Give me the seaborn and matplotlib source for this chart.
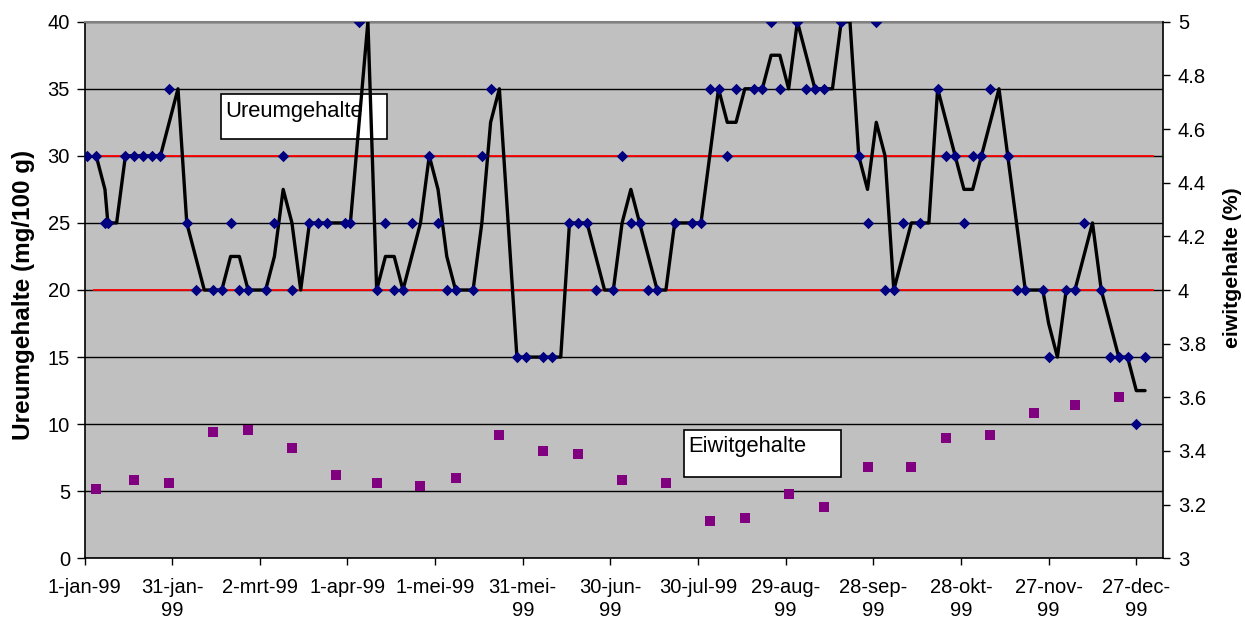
import numpy as np
import pandas as pd
import matplotlib.pyplot as plt
from matplotlib.patches import Rectangle
import seaborn as sns

# --- DATA ---
START = pd.Timestamp("1999-01-01")

# urea samples: day offset from 1-jan-99, value in mg/100 g
# None = row in the sheet without a urea value (still counts for the moving average)
urea_day = [1, 4, 7, 8, 11, 14, 17, 20, 23, 26, 29, 32, 35, 38, 41, 44, 47, 50, 53, 56,
            59, 62, 65, 68, 71, 74, 77, 80, 83, 86, 89, 91, 94, 97, 100, 103, 106, 109, 112, 115,
            118, 121, 124, 127, 130, 133, 136, 139, 142, 148, 151, 154, 157, 160, 163, 166, 169, 172, 175, 178,
            181, 184, 187, 190, 193, 196, 199, 202, 205, 208, 211, 214, 217, 220, 223, 226, 229, 232, 235, 238,
            241, 244, 247, 250, 253, 256, 259, 262, 265, 268, 271, 274, 277, 280, 283, 286, 289, 292, 295, 298,
            301, 304, 307, 310, 313, 316, 319, 322, 325, 328, 330, 333, 336, 339, 342, 345, 348, 351, 354, 357,
            360, 363]
urea_val = [30, 30, 25, 25, None, 30, 30, 30, 30, 30, 35, None, 25, 20, None, 20, 20, 25, 20, 20,
            None, 20, 25, 30, 20, None, 25, 25, 25, None, 25, 25, 40, None, 20, 25, 20, 20, 25, None,
            30, 25, 20, 20, None, 20, 30, 35, None, 15, 15, None, 15, 15, None, 25, 25, 25, 20, None,
            20, 30, 25, 25, 20, 20, None, 25, None, 25, 25, 35, 35, 30, 35, None, 35, 35, 40, 35,
            None, 40, 35, 35, 35, None, 40, None, 30, 25, 40, 20, 20, 25, None, 25, None, 35, 30, 30,
            25, 30, 30, 35, None, 30, 20, 20, None, 20, 15, None, 20, 20, 25, None, 20, 15, 15, 15,
            10, 15]

# protein content (%), right axis
protein_day = [4, 17, 29, 44, 56, 71, 86, 100, 115, 127, 142, 157, 169, 184, 199, 214, 226,
               241, 253, 268, 283, 295, 310, 325, 339, 354]
protein_val = [3.26, 3.29, 3.28, 3.47, 3.48, 3.41, 3.31, 3.28, 3.27, 3.30, 3.46, 3.40, 3.39,
               3.29, 3.28, 3.14, 3.15, 3.24, 3.19, 3.34, 3.34, 3.45, 3.46, 3.54, 3.57, 3.60]

# reference limits for urea
limit_values = [20, 30]
limit_days = (3, 366)

tick_days = [0, 30, 60, 90, 120, 150, 180, 210, 240, 270, 300, 330, 360]
tick_labels = ["1-jan-99", "31-jan-\n99", "2-mrt-99", "1-apr-99", "1-mei-99", "31-mei-\n99",
               "30-jun-\n99", "30-jul-99", "29-aug-\n99", "28-sep-\n99", "28-okt-\n99",
               "27-nov-\n99", "27-dec-\n99"]

W, H = 1245, 624


def day(d):
    return START + pd.to_timedelta(d, unit="D")


def fx(px):
    return px / W


def fy(py):
    return 1 - py / H


urea = pd.DataFrame({"date": day(np.array(urea_day)), "urea": pd.Series(urea_val, dtype=float)})
# Excel style moving average, period 2 (blank cells skipped)
urea["avg"] = urea["urea"].rolling(2, min_periods=1).mean()
trend = urea.iloc[1:]
protein = pd.DataFrame({"date": day(np.array(protein_day)), "eiwit": protein_val})

sns.set_theme(style="ticks")
plt.rcParams["font.family"] = ["Liberation Sans", "DejaVu Sans"]
plt.rcParams["text.color"] = "black"
plt.rcParams["xtick.color"] = "black"
plt.rcParams["ytick.color"] = "black"

fig = plt.figure(figsize=(W / 100, H / 100), dpi=100)
ax = fig.add_axes([fx(84.5), fy(558.3), 1078.1 / W, 536.6 / H])
ax2 = ax.twinx()

ax.set_facecolor("#c0c0c0")
ax.set_ylim(0, 40)
ax.set_yticks(range(0, 41, 5))
ax.yaxis.grid(True, color="black", lw=1.0)
ax.set_axisbelow(True)

ax.hlines(limit_values, day(limit_days[0]), day(limit_days[1]), color="red", lw=1.3, zorder=1.2)

sns.lineplot(data=trend, x="date", y="avg", ax=ax, color="black", lw=2.4,
             estimator=None, sort=False, zorder=3)
sns.scatterplot(data=urea, x="date", y="urea", ax=ax, marker="D", s=34,
                color="#000080", linewidth=0, zorder=4)
sns.scatterplot(data=protein, x="date", y="eiwit", ax=ax2, marker="s", s=58,
                color="#800080", linewidth=0, zorder=4)

ax.set_xlim(day(0), day(369))
ax.set_xticks(day(np.array(tick_days)))
ax.set_xticklabels(tick_labels)
for lbl in ax.get_xticklabels():
    lbl.set_linespacing(1.3)

ax2.set_ylim(3, 5)
rt = np.round(np.arange(3, 5.001, 0.2), 1)
ax2.set_yticks(rt)
ax2.set_yticklabels([f"{v:g}" for v in rt])

for a in (ax, ax2):
    a.set_xlabel("")
    a.set_ylabel("")
ax.tick_params(axis="y", direction="out", length=5.5, width=1, labelsize=14.5, pad=5,
               color="black", labelcolor="black")
ax.tick_params(axis="x", direction="out", length=5, width=1, labelsize=14.5, pad=9,
               color="black", labelcolor="black")
ax2.tick_params(axis="y", direction="out", length=5, width=1, labelsize=14.5, pad=6,
                color="black", labelcolor="black")

for s in ("left", "bottom"):
    ax.spines[s].set_color("black")
    ax.spines[s].set_linewidth(1.2)
ax.spines["right"].set_visible(False)
ax.spines["top"].set_color("#808080")
ax.spines["top"].set_linewidth(1.5)
for s in ("left", "bottom", "top"):
    ax2.spines[s].set_visible(False)
ax2.spines["right"].set_color("black")
ax2.spines["right"].set_linewidth(1.2)

fig.text(fx(24), fy(294.5), "Ureumgehalte (mg/100 g)", rotation=90, ha="center", va="center",
         fontsize=17.5, fontweight="bold", color="black")
fig.text(fx(1233), fy(268), "eiwitgehalte (%)", rotation=90, ha="center", va="center",
         fontsize=15.3, fontweight="bold", color="black")

# text boxes inside the plot area
for (x0, y0, x1, y1), label, tx, ty in [((220.7, 94, 386.7, 139), "Ureumgehalte", 225, 116.7),
                                        ((684, 429.7, 840.7, 477.3), "Eiwitgehalte", 688.3, 451.7)]:
    ax.add_patch(Rectangle((fx(x0), fy(y1)), fx(x1) - fx(x0), fy(y0) - fy(y1),
                           transform=fig.transFigure, facecolor="white", edgecolor="black",
                           lw=1.2, zorder=1.5, clip_on=False))
    fig.text(fx(tx), fy(ty), label, ha="left", va="baseline", fontsize=15.8, color="black", zorder=5)

fig.savefig("out.png", dpi=100)
